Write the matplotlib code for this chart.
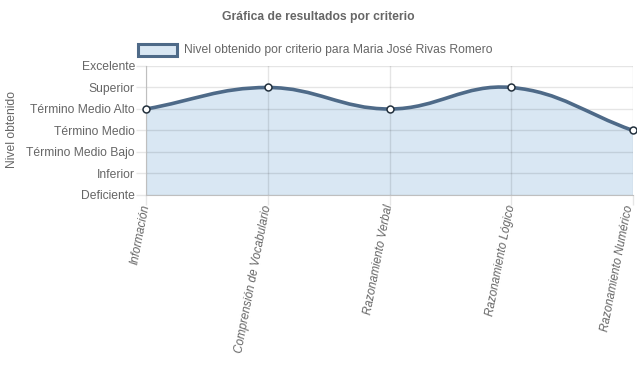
import matplotlib
matplotlib.use("Agg")
import matplotlib.pyplot as plt
from matplotlib.path import Path
from matplotlib.patches import PathPatch, Rectangle
import matplotlib.transforms as mtransforms
import numpy as np

categories = ["Información", "Comprensión de Vocabulario", "Razonamiento Verbal",
              "Razonamiento Lógico", "Razonamiento Numérico"]
levels = ["Deficiente", "Inferior", "Término Medio Bajo", "Término Medio",
          "Término Medio Alto", "Superior", "Excelente"]
values = [4, 5, 4, 5, 3]
title = "Gráfica de resultados por criterio"
legend_label = "Nivel obtenido por criterio para Maria José Rivas Romero"
ylabel = "Nivel obtenido"

W, H = 637, 389
plt.rcParams['font.family'] = ['Liberation Sans', 'DejaVu Sans']
txt = '#666666'
line_c = '#4e6a88'
fill_c = '#d9e7f3'
fs = 8.7

fig = plt.figure(figsize=(W / 100, H / 100), dpi=100)
x0, x1, yt, yb = 146, 633, 66, 195
ax = fig.add_axes([x0 / W, 1 - yb / H, (x1 - x0) / W, (yb - yt) / H])
n = len(categories)
ax.set_xlim(0, n - 1)
ax.set_ylim(0, len(levels) - 1)

xs = np.arange(n, dtype=float)
ys = np.array(values, dtype=float)

# Chart.js style spline (tension 0.4) computed in pixel space
fig.canvas.draw()
T = ax.transData
P = T.transform(np.column_stack([xs, ys]))
t = 0.4
cp_prev, cp_next = [], []
for i in range(n):
    prev = P[max(i - 1, 0)]
    cur = P[i]
    nxt = P[min(i + 1, n - 1)]
    d01 = np.hypot(*(cur - prev))
    d12 = np.hypot(*(nxt - cur))
    s = d01 + d12
    s01 = d01 / s if s else 0
    s12 = d12 / s if s else 0
    cp_prev.append(cur - t * s01 * (nxt - prev))
    cp_next.append(cur + t * s12 * (nxt - prev))
verts = [P[0]]
codes = [Path.MOVETO]
for i in range(n - 1):
    verts += [cp_next[i], cp_prev[i + 1], P[i + 1]]
    codes += [Path.CURVE4] * 3
inv = T.inverted()
vd = inv.transform(np.array(verts))
curve = Path(vd, codes)
fverts = list(vd) + [[xs[-1], 0], [xs[0], 0], vd[0]]
fcodes = codes + [Path.LINETO, Path.LINETO, Path.CLOSEPOLY]
ax.add_patch(PathPatch(Path(fverts, fcodes), facecolor=fill_c, edgecolor='none', zorder=1))
ax.add_patch(PathPatch(curve, facecolor='none', edgecolor=line_c, lw=2.6, zorder=3,
                       capstyle='round', joinstyle='round'))
ax.plot(xs, ys, 'o', ms=5, mfc='white', mec='#23313e', mew=1.1, zorder=4, clip_on=False)

ax.set_xticks(xs)
ax.set_xticklabels([])
xt = ax.get_xaxis_transform()
for i, lab in enumerate(categories):
    dx = -3 if i == n - 1 else 0
    tr = xt + mtransforms.ScaledTranslation(dx / 100, -10 / 100, fig.dpi_scale_trans)
    ax.text(xs[i], 0, lab, transform=tr, rotation=79, rotation_mode='anchor',
            ha='right', va='center', style='italic', color=txt, fontsize=8.4,
            clip_on=False)
ax.set_yticks(range(len(levels)))
ax.set_yticklabels(levels, color=txt, fontsize=fs)
ax.tick_params(axis='both', length=7, color='#e6e6e6', width=1, pad=1)
ax.set_axisbelow('line')
ax.grid(True, color='black', alpha=0.1, lw=1)
for sp in ['top', 'right']:
    ax.spines[sp].set_visible(False)
ax.spines['left'].set_color('#bfbfbf')
ax.spines['bottom'].set_color('#bfbfbf')
ax.set_facecolor('white')

fig.text(318.5 / W, 1 - 17 / H, title, ha='center', va='center', fontsize=fs,
         fontweight='bold', color=txt)
fig.text(12 / W, 1 - 130 / H, ylabel, rotation=90, ha='center', va='center',
         fontsize=fs, color=txt)
fig.patches.append(Rectangle((138 / W, 1 - 56 / H), 39 / W, 12 / H, transform=fig.transFigure,
                             facecolor=fill_c, edgecolor=line_c, lw=2.2))
fig.text(184 / W, 1 - 50 / H, legend_label, ha='left', va='center', fontsize=fs, color=txt)

fig.savefig("out.png", dpi=100)
